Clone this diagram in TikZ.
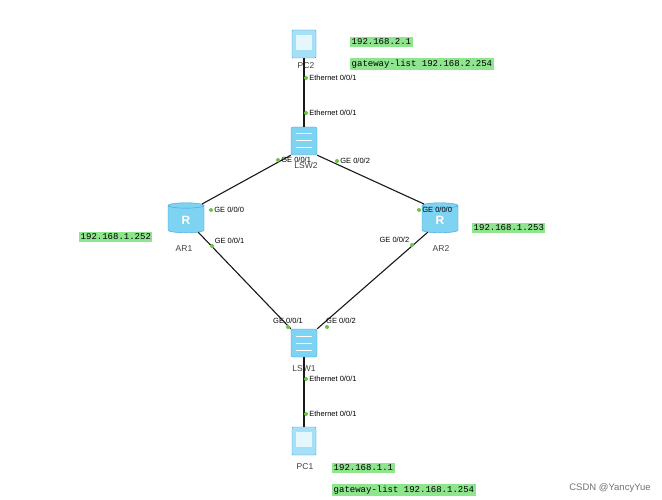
\documentclass[tikz,border=0pt]{standalone}
\usepackage{fontspec}
\setmainfont{Liberation Sans}
\newfontfamily\monof{Liberation Mono}
\usetikzlibrary{shapes.geometric}
\definecolor{ipg}{HTML}{8EE58E}
\definecolor{dev}{HTML}{7FD3F2}
\definecolor{devd}{HTML}{3BA3D9}
\definecolor{port}{HTML}{6CC644}
\begin{document}
\begin{tikzpicture}[x=1pt,y=-1pt,
  ip/.style={fill=ipg,inner sep=1.5pt,font=\monof\fontsize{9}{10}\selectfont},
  lbl/.style={font=\fontsize{8.5}{9}\selectfont,text=black!75},
  plbl/.style={font=\fontsize{7.5}{8}\selectfont,inner sep=1pt},
  pt/.style={fill=port,circle,inner sep=0pt,minimum size=4pt},
  link/.style={line width=1.1pt,black!90},
  sw/.style={draw=devd,fill=dev,rounded corners=2pt,minimum width=26pt,minimum height=28pt},
  rt/.style={cylinder,shape border rotate=90,aspect=0.35,draw=devd,fill=dev,minimum width=36pt,minimum height=30pt,font=\large\bfseries\color{white}},
  pc/.style={draw=devd,fill=dev!70,minimum width=24pt,minimum height=28pt,rounded corners=1pt}]
\useasboundingbox (0,0) rectangle (662,500);
\fill[white] (0,0) rectangle (662,500);
% devices
\node[pc] (pc2) at (304,44) {};
\node[lbl] (pc2l) at (306,66) {PC2};
\node[sw] (lsw2) at (304,141) {};
\node[lbl] (lsw2l) at (306,166) {LSW2};
\node[rt] (ar1) at (186,220) {R};
\node[lbl] (ar1l) at (184,249) {AR1};
\node[rt] (ar2) at (440,220) {R};
\node[lbl] (ar2l) at (441,249) {AR2};
\node[sw] (lsw1) at (304,343) {};
\node[lbl] (lsw1l) at (304,369) {LSW1};
\node[pc] (pc1) at (304,441) {};
\node[lbl] (pc1l) at (305,467) {PC1};
\foreach \n in {lsw1,lsw2}{
  \foreach \d in {-7,0,7} \draw[white,line width=1pt] ([xshift=-8pt,yshift=\d pt]\n.center) -- ([xshift=8pt,yshift=\d pt]\n.center);}
\foreach \n in {pc1,pc2}{
  \fill[white!80!dev] ([xshift=-8pt,yshift=9pt]\n.center) rectangle ([xshift=8pt,yshift=-6pt]\n.center);}
% links
\draw[link] (pc2.south) -- (lsw2.north);
\draw[link] (lsw2.south west) -- (ar1.north east);
\draw[link] (lsw2.south east) -- (ar2.north west);
\draw[link] (ar1.south east) -- (lsw1.north west);
\draw[link] (ar2.south west) -- (lsw1.north east);
\draw[link] (lsw1.south) -- (pc1.north);
% ports
\node[pt] (p1) at (306,78) {}; \node[plbl,anchor=west] (p1l) at (p1.east) {Ethernet 0/0/1};
\node[pt] (p2) at (306,113) {}; \node[plbl,anchor=west] (p2l) at (p2.east) {Ethernet 0/0/1};
\node[pt] (p3) at (278,160) {}; \node[plbl,anchor=west] (p3l) at (p3.east) {GE 0/0/1};
\node[pt] (p4) at (337,161) {}; \node[plbl,anchor=west] (p4l) at (p4.east) {GE 0/0/2};
\node[pt] (p5) at (211,210) {}; \node[plbl,anchor=west] (p5l) at (p5.east) {GE 0/0/0};
\node[pt] (p6) at (419,210) {}; \node[plbl,anchor=west] (p6l) at (p6.east) {GE 0/0/0};
\node[pt] (p7) at (212,246) {}; \node[plbl,anchor=south west] (p7l) at (p7.north east) {GE 0/0/1};
\node[pt] (p8) at (412,245) {}; \node[plbl,anchor=south east] (p8l) at (p8.north west) {GE 0/0/2};
\node[pt] (p9) at (288,327) {}; \node[plbl,anchor=south] (p9l) at (p9.north) {GE 0/0/1};
\node[pt] (p10) at (327,327) {}; \node[plbl,anchor=south west] (p10l) at ([xshift=-2pt]p10.north) {GE 0/0/2};
\node[pt] (p11) at (306,379) {}; \node[plbl,anchor=west] (p11l) at (p11.east) {Ethernet 0/0/1};
\node[pt] (p12) at (306,414) {}; \node[plbl,anchor=west] (p12l) at (p12.east) {Ethernet 0/0/1};
% IP labels
\node[ip,anchor=west] (ip1) at (350,42) {192.168.2.1};
\node[ip,anchor=west] (ip2) at (350,64) {gateway-list 192.168.2.254};
\node[ip,anchor=west] (ip3) at (79,237) {192.168.1.252};
\node[ip,anchor=west] (ip4) at (472,228) {192.168.1.253};
\node[ip,anchor=west] (ip5) at (332,468) {192.168.1.1};
\node[ip,anchor=west] (ip6) at (332,490) {gateway-list 192.168.1.254};
\node[font=\fontsize{9.5}{10}\selectfont,text=black!55] (wm) at (610,488) {CSDN @YancyYue};
\end{tikzpicture}
\end{document}
